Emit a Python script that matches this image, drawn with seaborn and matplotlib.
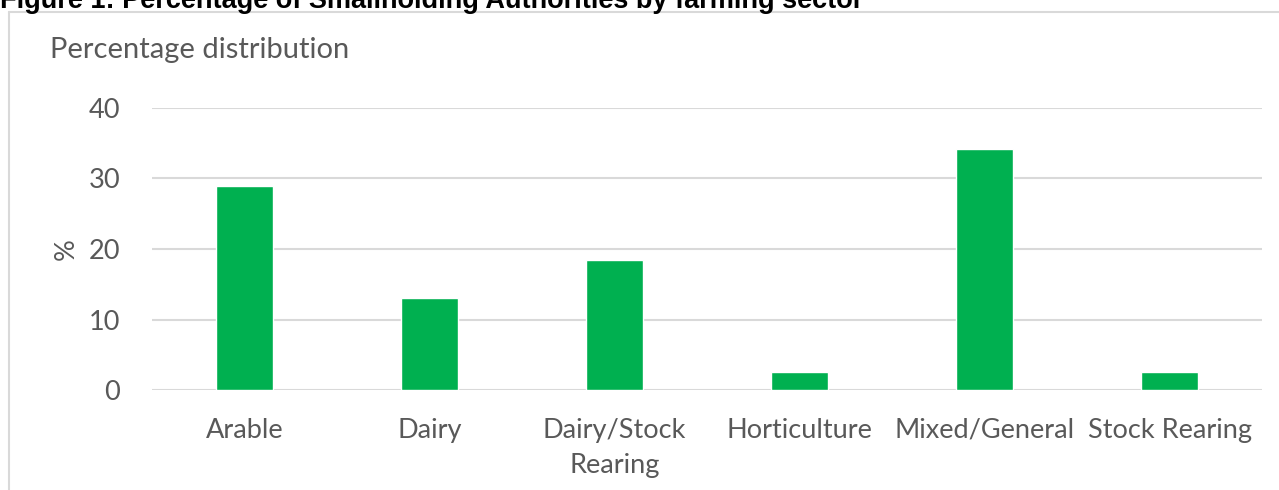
import matplotlib
matplotlib.use("Agg")
import matplotlib.pyplot as plt
from matplotlib.lines import Line2D
import seaborn as sns
import pandas as pd

categories = ["Arable", "Dairy", "Dairy/Stock\nRearing", "Horticulture", "Mixed/General", "Stock Rearing"]
values = [28.9, 13.1, 18.4, 2.6, 34.2, 2.6]
yticks = [0, 10, 20, 30, 40]

title = "Figure 1: Percentage of Smallholding Authorities by farming sector"
subtitle = "Percentage distribution"
ylabel = "%"

sns.set_theme(style="white")
plt.rcParams["font.family"] = ["Lato", "DejaVu Sans"]

W, H = 1279, 490
fig = plt.figure(figsize=(W / 100, H / 100), dpi=100)
ax = fig.add_axes([152 / W, (H - 390) / H, (1262 - 152) / W, (390 - 108) / H])

df = pd.DataFrame({"cat": categories, "val": values})
sns.barplot(data=df, x="cat", y="val", color="#00B050", width=0.31, ax=ax,
            saturation=1, zorder=3)

grey = "#595959"
ax.set_ylim(0, 40)
ax.set_yticks(yticks)
ax.set_xlim(-0.5, len(categories) - 0.5)
for y in yticks:
    ax.axhline(y, color="#d9d9d9", lw=1.5, zorder=1)
for s in ax.spines.values():
    s.set_visible(False)
ax.tick_params(axis="both", length=0, labelsize=19.5, labelcolor=grey)
ax.tick_params(axis="x", pad=20)
ax.tick_params(axis="y", pad=23)
ax.set_xlabel("")
ax.set_ylabel(ylabel, fontsize=19.5, color=grey, labelpad=7)
for lab in ax.get_xticklabels():
    lab.set_linespacing(1.5)

# frame
fig.add_artist(Line2D([9 / W, 9 / W], [0, 1 - 12 / H], transform=fig.transFigure, color="#d9d9d9", lw=1.5))
fig.add_artist(Line2D([9 / W, 1], [1 - 12 / H, 1 - 12 / H], transform=fig.transFigure, color="#d9d9d9", lw=1.5))

fig.text(50 / W, 1 - 50 / H, subtitle, fontsize=21, color=grey, va="center", ha="left")
fig.text(0, 1 - 8 / H, title, fontsize=19.5, fontweight="bold", color="black",
         family=["Liberation Sans", "DejaVu Sans"], va="baseline", ha="left")

fig.savefig("out.png", dpi=100)
